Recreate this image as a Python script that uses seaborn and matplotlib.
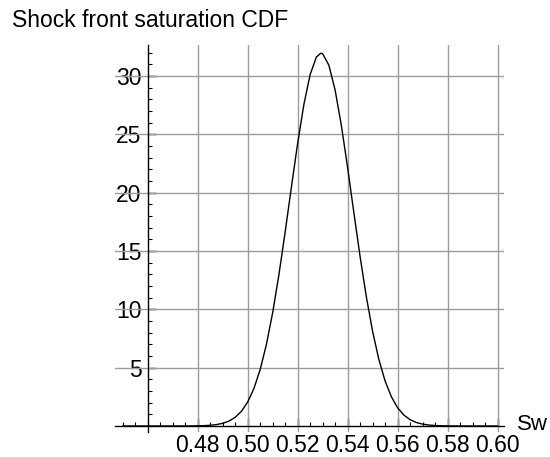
import numpy as np
import pandas as pd
import matplotlib
matplotlib.use("Agg")
import matplotlib.pyplot as plt
import seaborn as sns

# Data
sw = [0.450, 0.455, 0.460, 0.465, 0.4700, 0.4725, 0.4750, 0.4775, 0.4800, 0.4825, 0.4850,
      0.4875, 0.4900, 0.4925, 0.4950, 0.4975, 0.5000, 0.5025, 0.5050,
      0.5075, 0.5100, 0.5125, 0.5150, 0.5175, 0.5200, 0.5225, 0.5250,
      0.5275, 0.5293, 0.5300, 0.5325, 0.5350, 0.5375, 0.5400, 0.5425,
      0.5450, 0.5475, 0.5500, 0.5525, 0.5550, 0.5575, 0.5600, 0.5625,
      0.5650, 0.5675, 0.5700, 0.5725, 0.5750, 0.5775, 0.5800, 0.5825,
      0.5850, 0.5875, 0.5900, 0.595, 0.600]
density = [0.0, 0.0, 0.0, 0.0, 0.0004, 0.001, 0.0026, 0.006, 0.0134, 0.0289, 0.0598,
           0.119, 0.228, 0.419, 0.740, 1.256, 2.048, 3.21, 4.83,
           6.98, 9.70, 12.95, 16.61, 20.46, 24.22, 27.55, 30.11,
           31.62, 31.95, 31.90, 30.92, 28.79, 25.76, 22.15, 18.29,
           14.52, 11.07, 8.11, 5.71, 3.86, 2.51, 1.566, 0.939,
           0.541, 0.299, 0.159, 0.081, 0.040, 0.019, 0.0086, 0.0037,
           0.0016, 0.0006, 0.0003, 0.0, 0.0]

x_major = [0.48, 0.50, 0.52, 0.54, 0.56, 0.58, 0.60]
x_labels = ["0.48", "0.50", "0.52", "0.54", "0.56", "0.58", "0.60"]
y_major = [5, 10, 15, 20, 25, 30]
y_labels = ["5", "10", "15", "20", "25", "30"]

title = "Shock front saturation CDF"
xname = "Sw"

sns.set_style("white")
plt.rcParams["font.family"] = ["Liberation Sans", "DejaVu Sans"]
plt.rcParams["text.color"] = "black"

fig = plt.figure(figsize=(5.5, 4.57), dpi=100)
ax = fig.add_axes([0.2095, 0.0551, 0.7069, 0.8464])

df = pd.DataFrame({"Sw": sw, "pdf": density})
sns.lineplot(data=df, x="Sw", y="pdf", color="black", linewidth=1.0, ax=ax, zorder=3)

ax.set_xlim(0.447, 0.6026)
ax.set_ylim(-0.5, 32.65)

grid_c = "#9c9c9c"
for xv in x_major:
    ax.axvline(xv, color=grid_c, lw=1.0, zorder=1)
for yv in y_major:
    ax.axhline(yv, color=grid_c, lw=1.0, zorder=1)

ax.spines["top"].set_visible(False)
ax.spines["right"].set_visible(False)
ax.spines["left"].set_position(("data", 0.46))
ax.spines["bottom"].set_position(("data", 0.0))
for s in ("left", "bottom"):
    ax.spines[s].set_color("black")
    ax.spines[s].set_linewidth(1.0)
    ax.spines[s].set_zorder(4)

ax.set_xticks(x_major)
ax.set_xticklabels(x_labels)
ax.set_xticks(np.arange(0.450, 0.6001, 0.005), minor=True)
ax.set_yticks(y_major)
ax.set_yticklabels(y_labels)
ax.set_yticks(np.arange(0, 33, 1), minor=True)

ax.tick_params(axis="both", which="both", bottom=True, left=True, top=False, right=False)
ax.tick_params(axis="both", which="major", direction="in", length=6, width=1,
               color="black", labelsize=16.5, labelcolor="black")
ax.tick_params(axis="x", which="major", pad=6)
ax.tick_params(axis="y", which="major", pad=4.3)
ax.tick_params(axis="both", which="minor", direction="in", length=3, width=0.8,
               color="black")

ax.set_xlabel("")
ax.set_ylabel("")

fig.text(12 / 550, 1 - 26.7 / 457, title, fontsize=16.5, color="black",
         ha="left", va="baseline")
fig.text(517 / 550, 1 - 425 / 457, xname, fontsize=16, color="black",
         ha="left", va="center")

fig.savefig("out.png", dpi=100)
